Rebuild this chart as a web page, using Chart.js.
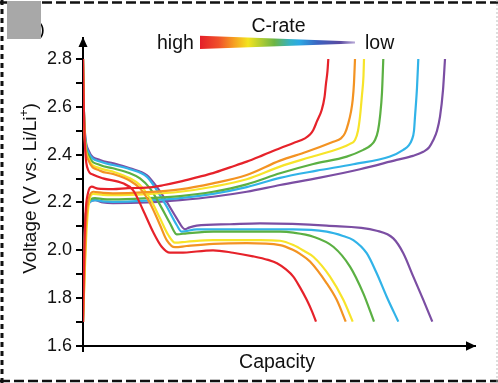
<!DOCTYPE html>
<html>
<head>
<meta charset="utf-8">
<script src="https://cdn.jsdelivr.net/npm/chart.js@4.4.1/dist/chart.umd.min.js"></script>
<style>
  html, body { margin: 0; padding: 0; background: #fff; }
  #wrap { position: absolute; left: 0; top: 0; width: 498px; height: 383px; }
</style>
</head>
<body>
<div id="wrap"><canvas id="c" width="498" height="383"></canvas></div>
<script>
// ---------- DATA (capacity in arbitrary units, voltage in V vs. Li/Li+) ----------
const rateNames = ['rate 1 (high)', 'rate 2', 'rate 3', 'rate 4', 'rate 5', 'rate 6 (low)'];
const rateColors = ['#e6222a', '#f39322', '#f7e42a', '#5bb043', '#31b3e8', '#7b4ea3'];

// charge curves
const chargeCap1 = [0, 1, 2.5, 5, 8.7, 15, 30, 45, 63.7, 80, 97, 113.7, 130, 147, 163.7, 180, 197, 210, 222, 227, 230.3, 234, 238.7, 241.5, 243, 244.5, 245.3];
const chargeV1   = [1.70, 1.95, 2.15, 2.24, 2.266, 2.258, 2.256, 2.26, 2.262, 2.272, 2.287, 2.305, 2.323, 2.347, 2.371, 2.398, 2.427, 2.448, 2.468, 2.484, 2.503, 2.54, 2.587, 2.64, 2.698, 2.75, 2.80];
const chargeCap2 = [0, 1.5, 3, 6, 10.3, 20, 30, 63.7, 97, 130, 163.7, 197, 223.7, 250.3, 258, 262, 265.3, 268, 269.7, 271, 272];
const chargeV2   = [1.70, 1.90, 2.10, 2.22, 2.245, 2.24, 2.238, 2.243, 2.255, 2.28, 2.315, 2.375, 2.412, 2.454, 2.468, 2.49, 2.531, 2.58, 2.629, 2.70, 2.80];
const chargeCap3 = [0, 1.5, 3.5, 6, 10.3, 20, 30, 63.7, 97, 130, 163.7, 197, 227, 257, 267, 272, 275, 277, 279, 280.5, 281];
const chargeV3   = [1.70, 1.88, 2.08, 2.20, 2.236, 2.232, 2.231, 2.235, 2.245, 2.266, 2.297, 2.35, 2.389, 2.427, 2.445, 2.461, 2.50, 2.559, 2.65, 2.73, 2.80];
const chargeCap4 = [0, 1, 2.5, 5, 12, 20, 30, 63.7, 97, 130, 163.7, 197, 230.3, 263.7, 280.3, 288, 292, 295, 297, 299, 300.3];
const chargeV4   = [1.70, 1.95, 2.13, 2.20, 2.218, 2.214, 2.213, 2.218, 2.227, 2.245, 2.276, 2.322, 2.361, 2.392, 2.42, 2.44, 2.461, 2.50, 2.559, 2.66, 2.80];
const chargeCap5 = [0, 1, 2.5, 5, 12, 20, 30, 63.7, 97, 130, 163.7, 197, 233.7, 270.3, 307, 320.3, 326, 328.7, 331, 332, 334, 335.3];
const chargeV5   = [1.70, 1.95, 2.13, 2.19, 2.21, 2.205, 2.203, 2.208, 2.218, 2.236, 2.264, 2.303, 2.333, 2.36, 2.392, 2.42, 2.44, 2.461, 2.50, 2.559, 2.68, 2.80];
const chargeCap6 = [0, 1, 2.5, 5, 12, 20, 30, 63.7, 97, 130, 163.7, 197, 237, 277, 313.7, 330, 340.3, 346, 350.3, 354, 357, 360, 362];
const chargeV6   = [1.70, 1.95, 2.13, 2.19, 2.21, 2.20, 2.197, 2.20, 2.21, 2.224, 2.245, 2.273, 2.304, 2.339, 2.378, 2.395, 2.412, 2.43, 2.461, 2.50, 2.559, 2.67, 2.80];

// discharge curves
const dischCap1 = [0, 0.8, 1.8, 4, 10.3, 20, 40, 50, 60, 70, 78.7, 87, 97, 130, 150, 170, 185, 194, 203, 210.3, 217, 223.7, 229, 233];
const dischV1   = [2.80, 2.60, 2.45, 2.35, 2.316, 2.301, 2.28, 2.252, 2.169, 2.078, 2.015, 1.99, 1.99, 2.00, 1.99, 1.975, 1.96, 1.946, 1.92, 1.89, 1.845, 1.793, 1.745, 1.702];
const dischCap2 = [0, 0.8, 2, 5.3, 17, 30, 47, 57, 67, 77, 83.7, 92, 103.7, 130.3, 163.7, 197, 210.3, 217, 227, 243.7, 253.7, 262.7];
const dischV2   = [2.80, 2.60, 2.45, 2.378, 2.333, 2.319, 2.291, 2.259, 2.197, 2.106, 2.043, 2.013, 2.018, 2.027, 2.03, 2.022, 2.001, 1.985, 1.953, 1.862, 1.793, 1.702];
const dischCap3 = [0, 0.8, 2, 5.3, 17, 30, 47, 57, 67, 77, 85.3, 92, 103.7, 130.3, 177, 197, 210.3, 222, 230.3, 247, 260.3, 269.7];
const dischV3   = [2.80, 2.60, 2.46, 2.385, 2.343, 2.329, 2.301, 2.273, 2.218, 2.134, 2.064, 2.032, 2.036, 2.043, 2.043, 2.04, 2.022, 1.995, 1.973, 1.89, 1.793, 1.702];
const dischCap4 = [0, 0.8, 2, 5.3, 17, 30, 47, 57, 67, 77, 87, 93.7, 103.7, 130.3, 197, 210.3, 230.3, 250.3, 267, 280.3, 291];
const dischV4   = [2.80, 2.60, 2.47, 2.399, 2.357, 2.343, 2.322, 2.301, 2.259, 2.19, 2.113, 2.067, 2.071, 2.078, 2.078, 2.074, 2.057, 2.015, 1.932, 1.82, 1.702];
const dischCap5 = [0, 0.8, 2, 5.3, 17, 30, 47, 63.7, 73.7, 83.7, 93.7, 98.7, 113.7, 197, 210.3, 243.7, 260, 270.3, 283.7, 293.7, 303.7, 315.3];
const dischV5   = [2.80, 2.60, 2.48, 2.412, 2.371, 2.357, 2.339, 2.308, 2.252, 2.183, 2.106, 2.078, 2.088, 2.088, 2.088, 2.078, 2.06, 2.043, 1.988, 1.904, 1.806, 1.702];
const dischCap6 = [0, 0.8, 2, 5.3, 17, 30.3, 47, 63.7, 73.7, 83.7, 93.7, 102, 106, 113.7, 147, 177, 243.7, 293.7, 310.3, 320.3, 330.3, 340.3, 349.3];
const dischV6   = [2.80, 2.60, 2.49, 2.42, 2.378, 2.364, 2.343, 2.315, 2.266, 2.203, 2.134, 2.088, 2.095, 2.103, 2.109, 2.113, 2.103, 2.082, 2.05, 1.988, 1.89, 1.793, 1.702];

// axis ticks
const yTickValues = [1.6, 1.7, 1.8, 1.9, 2.0, 2.1, 2.2, 2.3, 2.4, 2.5, 2.6, 2.7, 2.8];
const yTickLabels = ['1.6', '', '1.8', '', '2.0', '', '2.2', '', '2.4', '', '2.6', '', '2.8'];
const xAxisTitle = 'Capacity';
const yAxisTitle = 'Voltage (V vs. Li/Li';
const legendTitle = 'C-rate';
const legendHigh = 'high';
const legendLow = 'low';

// ---------- build datasets ----------
const chargeCaps = [chargeCap1, chargeCap2, chargeCap3, chargeCap4, chargeCap5, chargeCap6];
const chargeVs = [chargeV1, chargeV2, chargeV3, chargeV4, chargeV5, chargeV6];
const dischCaps = [dischCap1, dischCap2, dischCap3, dischCap4, dischCap5, dischCap6];
const dischVs = [dischV1, dischV2, dischV3, dischV4, dischV5, dischV6];

function pts(xs, ys) { return xs.map((x, i) => ({ x: x, y: ys[i] })); }

const datasets = [];
for (let i = 0; i < rateNames.length; i++) {
  const common = {
    borderColor: rateColors[i], borderWidth: 2.2, pointRadius: 0, fill: false,
    cubicInterpolationMode: 'monotone', tension: 0.4
  };
  datasets.push(Object.assign({ label: rateNames[i] + ' charge', data: pts(chargeCaps[i], chargeVs[i]) }, common));
  datasets.push(Object.assign({ label: rateNames[i] + ' discharge', data: pts(dischCaps[i], dischVs[i]) }, common));
}

const FONT = '"Liberation Sans", Arial, Helvetica, sans-serif';

const decor = {
  id: 'decor',
  beforeDraw(chart) {
    const ctx = chart.ctx;
    ctx.save();
    ctx.fillStyle = '#fff';
    ctx.fillRect(0, 0, chart.width, chart.height);
    ctx.restore();
  },
  afterDraw(chart) {
    const ctx = chart.ctx;
    const a = chart.chartArea;
    ctx.save();
    // axis arrows and extension
    ctx.fillStyle = '#000';
    ctx.strokeStyle = '#000';
    ctx.lineWidth = 2;
    ctx.beginPath();
    ctx.moveTo(a.left, a.bottom);
    ctx.lineTo(a.left, a.bottom + 6);
    ctx.stroke();
    ctx.beginPath();
    ctx.moveTo(a.left, a.top - 1);
    ctx.lineTo(a.left - 4.5, a.top + 9);
    ctx.lineTo(a.left + 4.5, a.top + 9);
    ctx.closePath();
    ctx.fill();
    ctx.beginPath();
    ctx.moveTo(a.right + 1, a.bottom);
    ctx.lineTo(a.right - 9, a.bottom - 4.8);
    ctx.lineTo(a.right - 9, a.bottom + 4.8);
    ctx.closePath();
    ctx.fill();

    // axis titles
    ctx.fillStyle = '#111';
    ctx.font = '19.5px ' + FONT;
    ctx.textBaseline = 'alphabetic';
    ctx.textAlign = 'center';
    ctx.fillText(xAxisTitle, 277, 368);

    ctx.save();
    ctx.translate(35.5, 188.5);
    ctx.rotate(-Math.PI / 2);
    ctx.font = '19px ' + FONT;
    const w1 = ctx.measureText(yAxisTitle).width;
    ctx.font = '12px ' + FONT;
    const w2 = ctx.measureText('+').width;
    ctx.font = '19px ' + FONT;
    const w3 = ctx.measureText(')').width;
    const total = w1 + w2 + w3;
    let x0 = -total / 2;
    ctx.textAlign = 'left';
    ctx.fillText(yAxisTitle, x0, 0);
    ctx.font = '12px ' + FONT;
    ctx.fillText('+', x0 + w1, -8);
    ctx.font = '19px ' + FONT;
    ctx.fillText(')', x0 + w1 + w2, 0);
    ctx.restore();

    // legend (C-rate gradient wedge)
    ctx.font = '19.5px ' + FONT;
    ctx.textAlign = 'center';
    ctx.fillText(legendTitle, 278.5, 31.5);
    ctx.textAlign = 'left';
    ctx.fillText(legendHigh, 157, 49);
    ctx.fillText(legendLow, 365, 49);
    const g = ctx.createLinearGradient(200, 0, 355, 0);
    g.addColorStop(0, '#e41f2a');
    g.addColorStop(0.12, '#f0502a');
    g.addColorStop(0.22, '#f6a021');
    g.addColorStop(0.31, '#f3e41f');
    g.addColorStop(0.48, '#6cb545');
    g.addColorStop(0.58, '#35b2c4');
    g.addColorStop(0.64, '#2ba9e4');
    g.addColorStop(0.76, '#3c62c0');
    g.addColorStop(0.9, '#5a4aa0');
    g.addColorStop(1, '#b9aad8');
    ctx.fillStyle = g;
    ctx.beginPath();
    ctx.moveTo(200, 35.7);
    ctx.lineTo(355, 41.6);
    ctx.lineTo(355, 43.4);
    ctx.lineTo(200, 49);
    ctx.closePath();
    ctx.fill();

    // dashed frame
    ctx.strokeStyle = '#111';
    ctx.lineWidth = 2.5;
    ctx.setLineDash([10, 4]);
    ctx.beginPath(); ctx.moveTo(0, 2.5); ctx.lineTo(498, 2.5); ctx.stroke();
    ctx.beginPath(); ctx.moveTo(0, 381); ctx.lineTo(498, 381); ctx.stroke();
    ctx.lineWidth = 3;
    ctx.setLineDash([5, 4]);
    ctx.beginPath(); ctx.moveTo(2, 0); ctx.lineTo(2, 383); ctx.stroke();
    ctx.strokeStyle = '#bdbdbd';
    ctx.lineWidth = 1;
    ctx.setLineDash([2, 2]);
    ctx.beginPath(); ctx.moveTo(497, 0); ctx.lineTo(497, 383); ctx.stroke();
    ctx.setLineDash([]);

    // panel label (mostly hidden behind grey box)
    ctx.fillStyle = '#000';
    ctx.font = '19px ' + FONT;
    ctx.textAlign = 'left';
    ctx.fillText('b)', 28, 35);
    ctx.fillStyle = '#a8a8a8';
    ctx.fillRect(7, 1, 34, 38);
    ctx.restore();
  }
};

new Chart(document.getElementById('c'), {
  type: 'line',
  data: { datasets: datasets },
  options: {
    responsive: false,
    animation: false,
    devicePixelRatio: 1,
    layout: { padding: { left: 0, top: 38, right: 23, bottom: 0 } },
    plugins: { legend: { display: false }, tooltip: { enabled: false }, title: { display: false } },
    scales: {
      x: {
        type: 'linear', min: 0, max: 392, bounds: 'data',
        ticks: { display: false },
        grid: { display: false },
        border: { display: true, color: '#000', width: 2 },
        afterFit(scale) { scale.height = 37; }
      },
      y: {
        type: 'linear', min: 1.6, max: 2.8878, bounds: 'data',
        afterBuildTicks(scale) { scale.ticks = yTickValues.map(v => ({ value: v })); },
        ticks: {
          autoSkip: false, padding: 4, color: '#111',
          font: { family: FONT, size: 18 },
          callback: (v, i) => yTickLabels[i]
        },
        grid: { display: true, drawOnChartArea: false, drawTicks: true, tickLength: 7, color: '#000', lineWidth: 2 },
        border: { display: true, color: '#000', width: 2 },
        afterFit(scale) { scale.width = 83; }
      }
    }
  },
  plugins: [decor]
});
</script>
</body>
</html>
